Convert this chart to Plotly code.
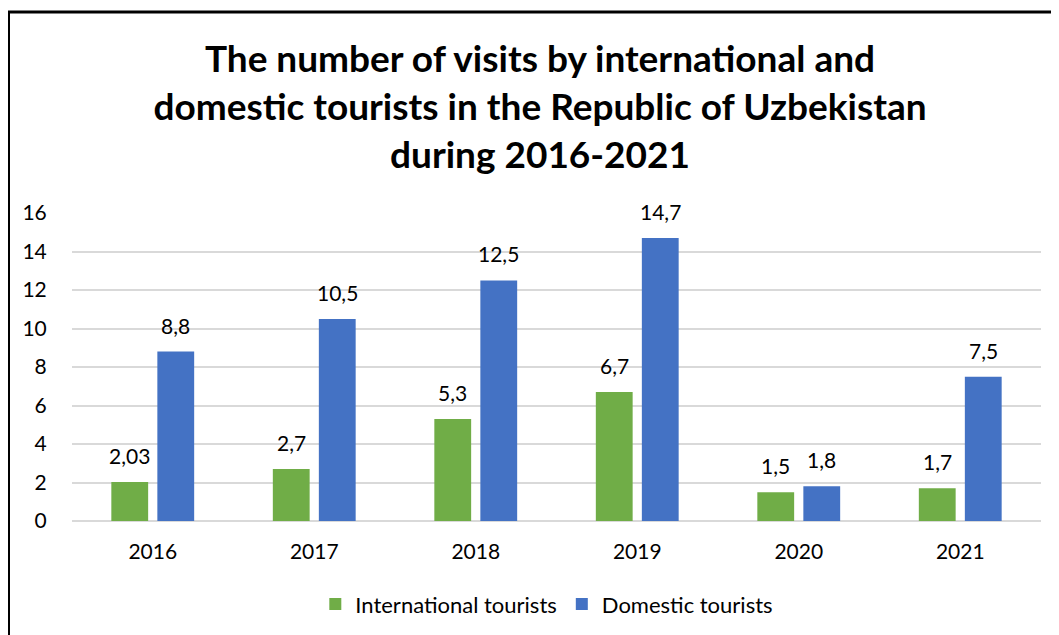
import plotly.graph_objects as go

years = ["2016", "2017", "2018", "2019", "2020", "2021"]
international = [2.03, 2.7, 5.3, 6.7, 1.5, 1.7]
domestic = [8.8, 10.5, 12.5, 14.7, 1.8, 7.5]
intl_labels = ["2,03", "2,7", "5,3", "6,7", "1,5", "1,7"]
dom_labels = ["8,8", "10,5", "12,5", "14,7", "1,8", "7,5"]

GREEN = "#70AD47"
BLUE = "#4472C4"
FONT = "Lato"
FS = 21

fig = go.Figure()
fig.add_trace(go.Bar(x=years, y=international, name="International tourists",
                     marker=dict(color=GREEN, line=dict(width=0))))
fig.add_trace(go.Bar(x=years, y=domestic, name="Domestic tourists",
                     marker=dict(color=BLUE, line=dict(width=0))))

annotations = []
for i, (v, t) in enumerate(zip(international, intl_labels)):
    annotations.append(dict(x=i, y=v, text=t, showarrow=False, xshift=-23,
                            yanchor="bottom", yshift=12,
                            font=dict(family=FONT, size=FS, color="#000")))
for i, (v, t) in enumerate(zip(domestic, dom_labels)):
    annotations.append(dict(x=i, y=v, text=t, showarrow=False, xshift=23,
                            yanchor="bottom", yshift=12,
                            font=dict(family=FONT, size=FS, color="#000")))

# page has an 8px body margin: figure coords = page coords - 8
fig.update_layout(
    width=1059, height=635,
    margin=dict(l=64, r=26, t=205, b=122),
    paper_bgcolor="white", plot_bgcolor="white",
    barmode="group", bargap=0.43, bargroupgap=0.2,
    title=dict(text="The number of visits by international and<br>domestic tourists in the Republic of Uzbekistan<br>during 2016-2021",
               x=532 / 1059, xanchor="center", y=1 - 64 / 635, yanchor="middle",
               font=dict(family=FONT, size=37, color="#000", weight="bold")),
    font=dict(family=FONT, size=FS, color="#000"),
    xaxis=dict(type="category", range=[-0.5, 5.5], autorange=False, showgrid=False,
               showline=False, ticks="outside", ticklen=12,
               tickcolor="rgba(0,0,0,0)", tickfont=dict(size=FS, color="#000")),
    yaxis=dict(range=[0, 16], autorange=False, dtick=2, showgrid=True, gridcolor="#D9D9D9",
               gridwidth=1.5, zeroline=True, zerolinecolor="#D9D9D9", zerolinewidth=1.5,
               showline=False, ticks="outside", ticklen=20, tickcolor="rgba(0,0,0,0)",
               tickfont=dict(size=FS, color="#000")),
    legend=dict(orientation="h", x=0.49, xanchor="center", y=-0.27, yanchor="middle",
                font=dict(size=22, color="#000"), itemwidth=30, traceorder="normal"),
    annotations=annotations,
    showlegend=True,
)

# chart border (left and top edges visible)
fig.add_shape(type="rect", xref="paper", yref="paper",
              x0=(0.5 - 64) / 969, x1=(1070 - 64) / 969,
              y0=(513 - 650) / 308, y1=(513 - 4) / 308,
              line=dict(color="black", width=3), fillcolor="rgba(0,0,0,0)", layer="above")

fig.write_html("out.html")
